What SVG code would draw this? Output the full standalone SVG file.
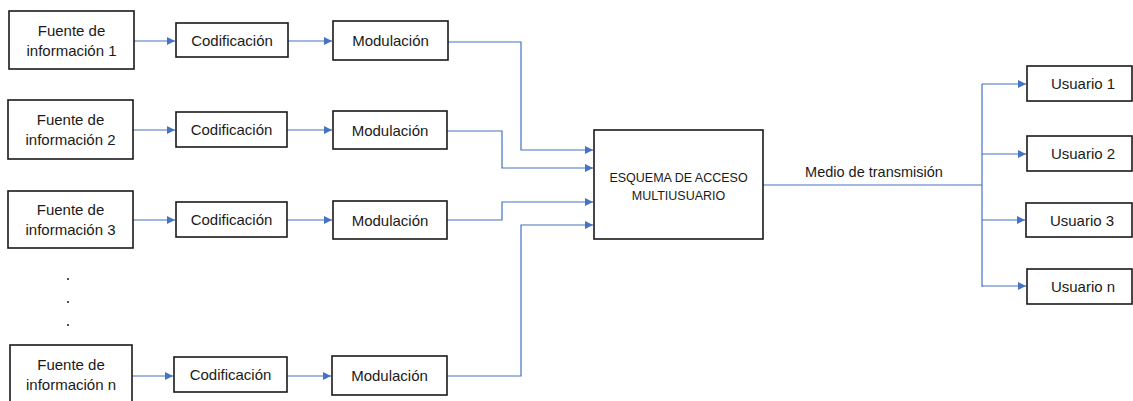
<svg xmlns="http://www.w3.org/2000/svg" width="1133" height="401" viewBox="0 0 1133 401">
<defs>
<style>
.box{fill:#fff;stroke:#1a1a1a;stroke-width:1.6}
.t{font-family:"Liberation Sans",Arial,sans-serif;font-size:15px;fill:#1a1a1a;text-anchor:middle}
.tm{font-family:"Liberation Sans",Arial,sans-serif;font-size:12.5px;fill:#1a1a1a;text-anchor:middle}
.lbl{font-family:"Liberation Sans",Arial,sans-serif;font-size:14.5px;fill:#1a1a1a;text-anchor:middle}
.c{fill:none;stroke:#4472C4;stroke-width:1.2}
</style>
<marker id="ah" viewBox="0 0 10 10" refX="10" refY="5" markerWidth="8" markerHeight="8" markerUnits="userSpaceOnUse" orient="auto">
<path d="M0,0 L10,5 L0,10 z" fill="#4472C4"/>
</marker>
</defs>
<rect width="1133" height="401" fill="#fff"/>
<g id="connectors">
<path class="c" d="M134,41 H175" marker-end="url(#ah)"/>
<path class="c" d="M288,41 H332" marker-end="url(#ah)"/>
<path class="c" d="M133,130 H175" marker-end="url(#ah)"/>
<path class="c" d="M287,130 H332" marker-end="url(#ah)"/>
<path class="c" d="M133,220 H175" marker-end="url(#ah)"/>
<path class="c" d="M287,220 H332" marker-end="url(#ah)"/>
<path class="c" d="M132,376 H173" marker-end="url(#ah)"/>
<path class="c" d="M287,376 H331" marker-end="url(#ah)"/>
<path class="c" d="M448,42 H521 V150 H593" marker-end="url(#ah)"/>
<path class="c" d="M447,131 H502 V168 H593" marker-end="url(#ah)"/>
<path class="c" d="M447,220 H502 V202 H593" marker-end="url(#ah)"/>
<path class="c" d="M447,376 H521 V225 H593" marker-end="url(#ah)"/>
<path class="c" d="M763,185 H982"/>
<path class="c" d="M982,84 V287"/>
<path class="c" d="M982,84 H1026" marker-end="url(#ah)"/>
<path class="c" d="M982,154 H1026" marker-end="url(#ah)"/>
<path class="c" d="M982,220 H1025" marker-end="url(#ah)"/>
<path class="c" d="M982,286 H1026" marker-end="url(#ah)"/>
<text class="lbl" x="874" y="177">Medio de transmisión</text>
</g>
<g id="fuente1"><rect class="box" x="9" y="11" width="125" height="58"/><text class="t" x="71.5" y="36">Fuente de</text><text class="t" x="71.5" y="56">información 1</text></g>
<g id="cod1"><rect class="box" x="176" y="23" width="112" height="34"/><text class="t" x="232" y="45.5">Codificación</text></g>
<g id="mod1"><rect class="box" x="333" y="21" width="115" height="39"/><text class="t" x="390.5" y="46">Modulación</text></g>
<g id="fuente2"><rect class="box" x="8" y="100" width="125" height="59"/><text class="t" x="70.5" y="125">Fuente de</text><text class="t" x="70.5" y="145">información 2</text></g>
<g id="cod2"><rect class="box" x="176" y="112" width="111" height="35"/><text class="t" x="231.5" y="135">Codificación</text></g>
<g id="mod2"><rect class="box" x="333" y="111" width="114" height="38"/><text class="t" x="390" y="135.5">Modulación</text></g>
<g id="fuente3"><rect class="box" x="8" y="191" width="125" height="57"/><text class="t" x="70.5" y="215">Fuente de</text><text class="t" x="70.5" y="235">información 3</text></g>
<g id="cod3"><rect class="box" x="176" y="202" width="111" height="35"/><text class="t" x="231.5" y="225">Codificación</text></g>
<g id="mod3"><rect class="box" x="333" y="201" width="114" height="38"/><text class="t" x="390" y="225.5">Modulación</text></g>
<g id="dots" fill="#1a1a1a"><circle cx="68" cy="279" r="1"/><circle cx="68" cy="302" r="1"/><circle cx="68" cy="325" r="1"/></g>
<g id="fuenten"><rect class="box" x="10" y="345" width="122" height="60"/><text class="t" x="71" y="370">Fuente de</text><text class="t" x="71" y="390">información n</text></g>
<g id="codn"><rect class="box" x="174" y="357" width="113" height="35"/><text class="t" x="230.5" y="380">Codificación</text></g>
<g id="modn"><rect class="box" x="332" y="356" width="115" height="39"/><text class="t" x="389.5" y="381">Modulación</text></g>
<g id="esquema"><rect class="box" x="594" y="130" width="169" height="109"/><text class="tm" x="678.5" y="182">ESQUEMA DE ACCESO</text><text class="tm" x="678.5" y="200">MULTIUSUARIO</text></g>
<g id="usuario1"><rect class="box" x="1027" y="66" width="105" height="35"/><text class="t" x="1083" y="89">Usuario 1</text></g>
<g id="usuario2"><rect class="box" x="1027" y="136" width="105" height="35"/><text class="t" x="1083" y="159">Usuario 2</text></g>
<g id="usuario3"><rect class="box" x="1026" y="203" width="106" height="34"/><text class="t" x="1082" y="225.5">Usuario 3</text></g>
<g id="usuarion"><rect class="box" x="1027" y="269" width="105" height="35"/><text class="t" x="1083" y="291.5">Usuario n</text></g>
</svg>
